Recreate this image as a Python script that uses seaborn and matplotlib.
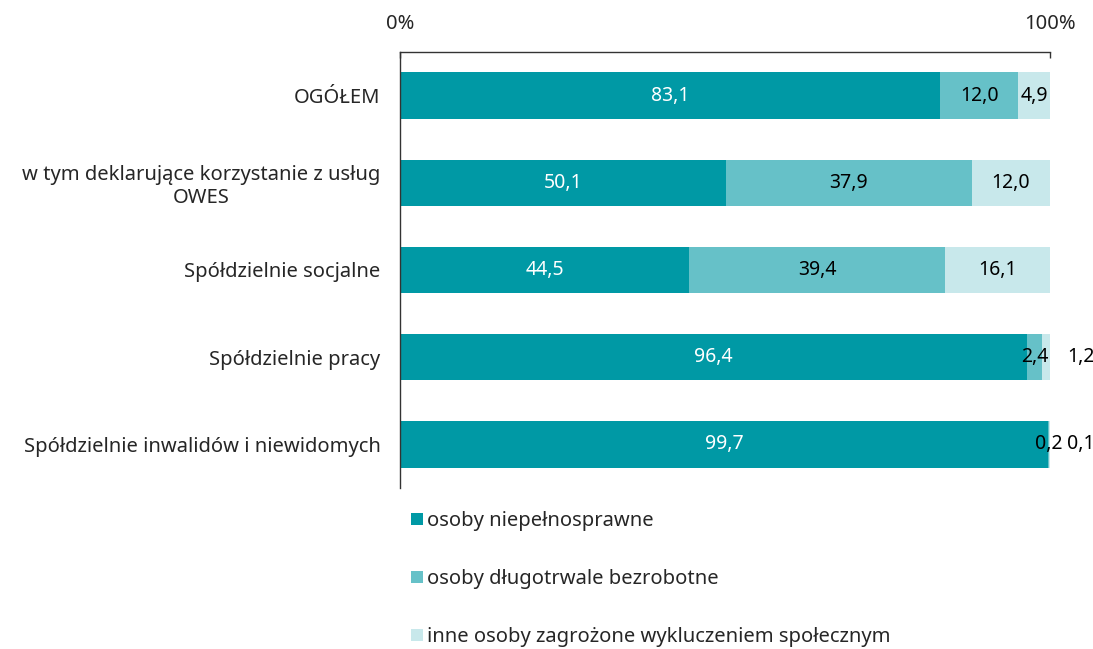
import numpy as np
import pandas as pd
import matplotlib
matplotlib.use("Agg")
import matplotlib.pyplot as plt
from matplotlib.lines import Line2D
import seaborn as sns

# dane
kategorie = ["OGÓŁEM",
             "w tym deklarujące korzystanie z usług\nOWES",
             "Spółdzielnie socjalne",
             "Spółdzielnie pracy",
             "Spółdzielnie inwalidów i niewidomych"]
niepelnosprawne = [83.1, 50.1, 44.5, 96.4, 99.7]
dlugotrwale_bezrobotne = [12.0, 37.9, 39.4, 2.4, 0.2]
inne_zagrozone = [4.9, 12.0, 16.1, 1.2, 0.1]
serie = ["osoby niepełnosprawne",
         "osoby długotrwale bezrobotne",
         "inne osoby zagrożone wykluczeniem społecznym"]
kolory = ["#0099A5", "#66C1C8", "#C8E8EB"]

sns.set_theme(style="white")
plt.rcParams["font.family"] = ["Noto Sans", "DejaVu Sans"]
FS = 14.5

df = pd.DataFrame({"kat": kategorie,
                   "s1": niepelnosprawne,
                   "s2": dlugotrwale_bezrobotne,
                   "s3": inne_zagrozone})
df["c1"] = df["s1"]
df["c2"] = df["s1"] + df["s2"]
df["c3"] = df["c2"] + df["s3"]

fig = plt.figure(figsize=(10.93, 6.49), dpi=100)
ax = fig.add_axes([400 / 1093, 1 - 488 / 649, 650 / 1093, 436 / 649])

# rysujemy od najdluzszego (skumulowanego) do najkrotszego
for col, kol in zip(["c3", "c2", "c1"], kolory[::-1]):
    sns.barplot(data=df, y="kat", x=col, color=kol, orient="h",
                width=0.53, saturation=1, ax=ax, linewidth=0)

# etykiety wartosci
for i, row in df.iterrows():
    starts = [0, row["c1"], row["c2"]]
    vals = [row["s1"], row["s2"], row["s3"]]
    for j, (st, v) in enumerate(zip(starts, vals)):
        txt = f"{v:.1f}".replace(".", ",")
        if j == 2 and v < 2:
            ax.text(100 + 4.8, i, txt, ha="center", va="center",
                    fontsize=14, color="black")
        else:
            ax.text(st + v / 2, i, txt, ha="center", va="center",
                    fontsize=14, color="white" if j == 0 else "black")

ax.set_xlim(0, 100)
ax.set_ylim(4.5, -0.5)
ax.xaxis.tick_top()
ax.set_xticks([0, 100])
ax.set_xticklabels(["0%", "100%"])
ax.tick_params(axis="x", direction="in", length=4, width=1, color="#333333",
               pad=13, labelsize=FS)
ax.tick_params(axis="y", length=0, pad=14, labelsize=FS)
ax.set_xlabel("")
ax.set_ylabel("")
for lab in ax.get_yticklabels():
    lab.set_multialignment("center")

for s in ["right", "bottom"]:
    ax.spines[s].set_visible(False)
for s in ["top", "left"]:
    ax.spines[s].set_color("#333333")
    ax.spines[s].set_linewidth(1)

uchwyty = [Line2D([0], [0], marker="s", linestyle="", markersize=8,
                  markerfacecolor=k, markeredgewidth=0, label=l)
           for k, l in zip(kolory, serie)]
fig.legend(handles=uchwyty, loc="upper left",
           bbox_to_anchor=(401 / 1093, 1 - 503 / 649), frameon=False,
           fontsize=FS, labelspacing=1.88, handletextpad=0.1,
           handlelength=0.8, borderaxespad=0)

fig.savefig("out.png", dpi=100)
